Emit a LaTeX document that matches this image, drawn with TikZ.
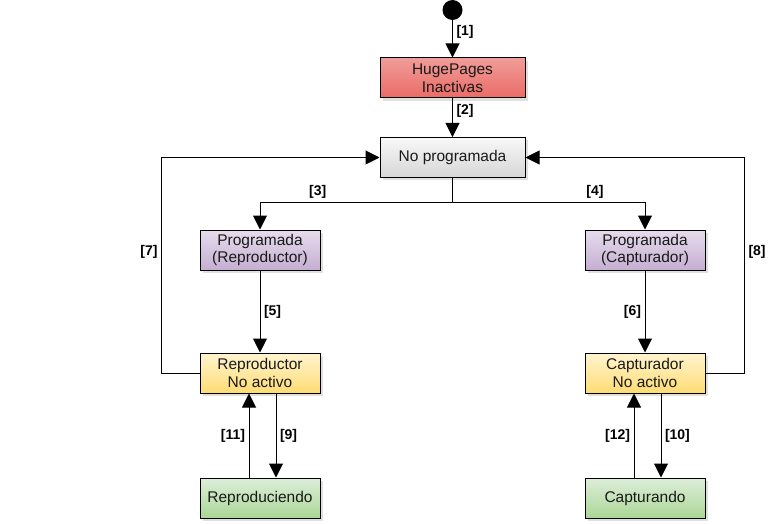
\documentclass[tikz,border=0pt]{standalone}
\usepackage{fontspec}
\setmainfont{Liberation Sans}
\definecolor{RedTop}{HTML}{F19C99}
\definecolor{RedBot}{HTML}{EA6B66}
\definecolor{GrayTop}{HTML}{F8F8F8}
\definecolor{GrayBot}{HTML}{D6D6D6}
\definecolor{LilaTop}{HTML}{E6DCEC}
\definecolor{LilaBot}{HTML}{C5AED2}
\definecolor{AmberTop}{HTML}{FFF4D0}
\definecolor{AmberBot}{HTML}{FFDC73}
\definecolor{GreenTop}{HTML}{DDEEDA}
\definecolor{GreenBot}{HTML}{ABD696}
\usetikzlibrary{arrows.meta, positioning, shadows}

\begin{document}
\begin{tikzpicture}[x=1pt, y=-1pt, line width=1pt,
    >={Triangle[width=14pt, length=14pt]},
    state/.style={draw, minimum width=120pt, minimum height=40pt, align=center,
                  inner sep=0pt, text=black!90,
                  font=\fontsize{15.5}{17.5}\selectfont,
                  drop shadow={shadow xshift=3pt, shadow yshift=-3pt,
                               opacity=0.12, fill=black}},
    wide/.style={state, minimum width=145pt},
    lbl/.style={font=\fontsize{14}{16}\selectfont\bfseries, inner sep=3.5pt}]
  \useasboundingbox (0,0) rectangle (774,524);

  % start and top states
  \node[circle, fill=black, minimum size=20pt, inner sep=0pt] (start) at (452.5,10) {};
  \node[wide, top color=RedTop, bottom color=RedBot] (huge) at (452.5,78)
    {HugePages\\Inactivas};
  \node[wide, top color=GrayTop, bottom color=GrayBot] (nop) at (452.5,157.5)
    {No programada};

  % player branch
  \node[state, top color=LilaTop, bottom color=LilaBot] (prep) at (260,250)
    {Programada\\(Reproductor)};
  \node[state, top color=AmberTop, bottom color=AmberBot] (rep) at (260,373)
    {Reproductor\\No activo};
  \node[state, top color=GreenTop, bottom color=GreenBot] (play) at (260,498)
    {Reproduciendo};

  % capture branch
  \node[state, top color=LilaTop, bottom color=LilaBot] (pcap) at (645,250)
    {Programada\\(Capturador)};
  \node[state, top color=AmberTop, bottom color=AmberBot] (cap) at (645,373)
    {Capturador\\No activo};
  \node[state, top color=GreenTop, bottom color=GreenBot] (rec) at (645,498)
    {Capturando};

  \coordinate (split) at ([yshift=-24.5pt]nop.south);

  \draw[->] (start) -- (huge) node[pos=0.32, right, lbl] {[1]};
  \draw[->] (huge) -- (nop) node[pos=0.33, right, lbl] {[2]};
  \draw (nop.south) -- (split);
  \draw[->] (split) -| node[pos=0.35, above, lbl] {[3]} (prep.north);
  \draw[->] (split) -| node[pos=0.37, above, lbl] {[4]} (pcap.north);
  \draw[->] (prep) -- (rep) node[midway, right, lbl] {[5]};
  \draw[->] (pcap) -- (cap) node[midway, left, lbl] {[6]};
  \draw[->] (rep.west) -- ++(-38,0) |- node[pos=0.28, left, lbl] {[7]} (nop.west);
  \draw[->] (cap.east) -- ++(39,0) |- node[pos=0.28, right, lbl] {[8]} (nop.east);
  \draw[->] ([xshift=16pt]rep.south) -- ([xshift=16pt]play.north)
    node[midway, right, lbl] {[9]};
  \draw[->] ([xshift=-11pt]play.north) -- ([xshift=-11pt]rep.south)
    node[midway, left, lbl] {[11]};
  \draw[->] ([xshift=16pt]cap.south) -- ([xshift=16pt]rec.north)
    node[midway, right, lbl] {[10]};
  \draw[->] ([xshift=-11pt]rec.north) -- ([xshift=-11pt]cap.south)
    node[midway, left, lbl] {[12]};
\end{tikzpicture}
\end{document}
